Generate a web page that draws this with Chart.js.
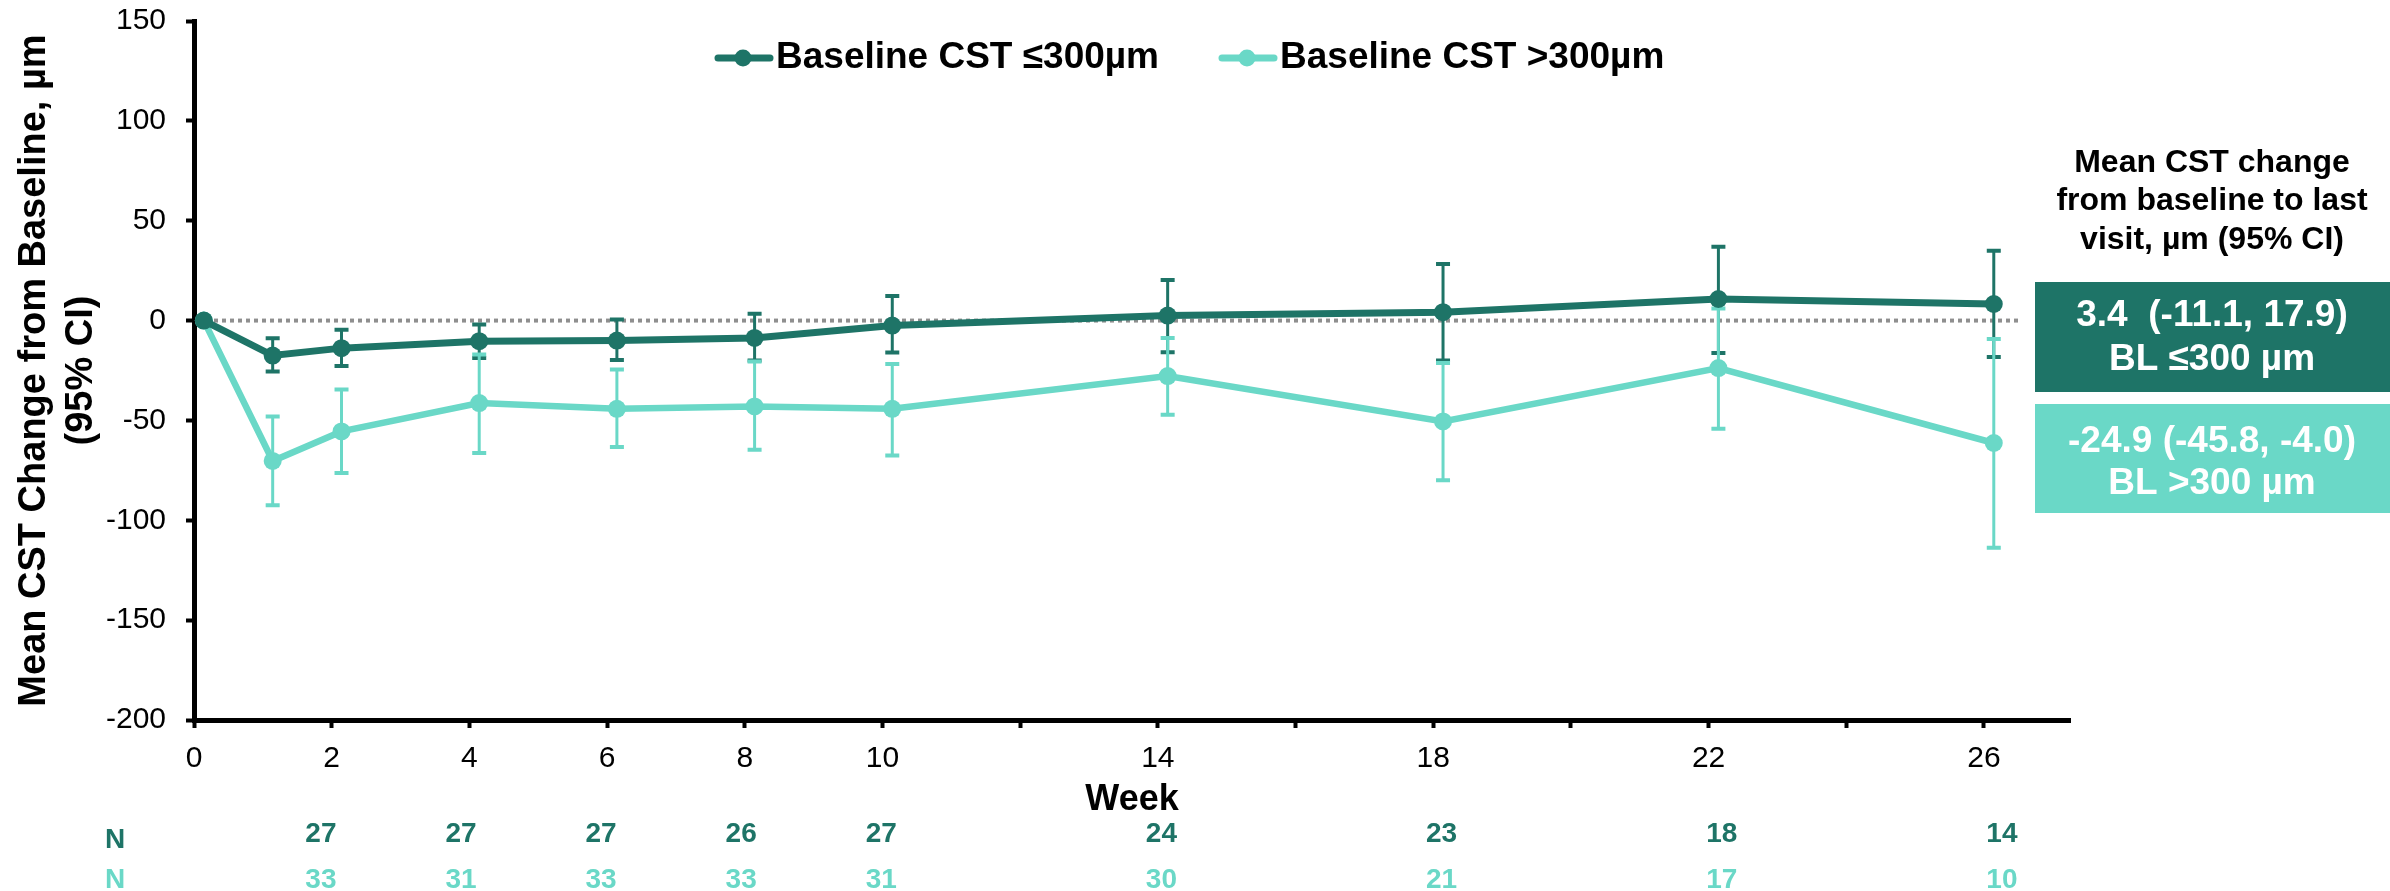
<!DOCTYPE html>
<html>
<head>
<meta charset="utf-8">
<script src="https://cdn.jsdelivr.net/npm/chart.js@4.4.1/dist/chart.umd.min.js"></script>
<style>
  html, body { margin: 0; padding: 0; background: #fff; }
  #cstChart { display: block; }
</style>
</head>
<body>
<canvas id="cstChart" width="2390" height="891"></canvas>
<script>
// study visits, in days from the first dose (day 1 = baseline)
const studyDays = [1, 8, 15, 29, 43, 57, 71, 99, 127, 155, 183];

// BL CST <=300 um
const lowMean = [0, -17.5, -13.8, -10.3, -10, -8.7, -2.5, 2.5, 4.2, 10.8, 8.3];
const lowLo = [0, -25.5, -22.8, -18.8, -19.7, -20, -16, -15.8, -20, -16.2, -18.3];
const lowHi = [0, -8.8, -4.6, -2, 0.5, 3.4, 12.3, 20.3, 28.3, 37, 35];

// BL CST >300 um
const highMean = [0, -70.3, -55.5, -41.3, -44.2, -43, -44.2, -27.8, -50.5, -23.8, -61.3];
const highLo = [0, -92.5, -76.3, -66.3, -63.3, -64.7, -67.5, -47.2, -80, -54.2, -113.7];
const highHi = [0, -48, -34.5, -17, -24.5, -20.5, -21.7, -8.7, -21.2, 6, -9.2];

// patients at each visit
const nWeeks = [2, 4, 6, 8, 10, 14, 18, 22, 26];
const nLow = [27, 27, 27, 26, 27, 24, 23, 18, 14];
const nHigh = [33, 31, 33, 33, 31, 30, 21, 17, 10];

const tickWeeks = [0, 2, 4, 6, 8, 10, 12, 14, 16, 18, 20, 22, 24, 26];
const labelWeeks = [0, 2, 4, 6, 8, 10, 14, 18, 22, 26];

// box on the right
const summaryTitle = ['Mean CST change', 'from baseline to last', 'visit, µm (95% CI)'];
const summaryLow = ['3.4  (-11.1, 17.9)', 'BL ≤300 µm'];
const summaryHigh = ['-24.9 (-45.8, -4.0)', 'BL >300 µm'];

const DARK = '#1e7467';
const LIGHT = '#6ad8c7';
const FONT = "'Liberation Sans', Arial, sans-serif";

Chart.defaults.font.family = FONT;
Chart.defaults.color = '#000';

function toPoints(values) {
    return values.map((v, i) => ({ x: studyDays[i] / 7, y: v }));
}

// zero reference line + 95% CI whiskers, under the lines
const ciPlugin = {
    id: 'ciBars',
    beforeDatasetsDraw(chart) {
        const { ctx, scales: { x, y }, chartArea } = chart;
        ctx.save();
        ctx.strokeStyle = '#8f8f8f';
        ctx.lineWidth = 4;
        ctx.setLineDash([4, 4]);
        ctx.beginPath();
        ctx.moveTo(chartArea.left + 4, y.getPixelForValue(0));
        ctx.lineTo(x.getPixelForValue(26.5), y.getPixelForValue(0));
        ctx.stroke();
        ctx.setLineDash([]);

        const groups = [[lowLo, lowHi, DARK], [highLo, highHi, LIGHT]];
        groups.forEach(([lo, hi, color]) => {
            ctx.strokeStyle = color;
            for (let i = 1; i < studyDays.length; i++) {
                const px = x.getPixelForValue(studyDays[i] / 7);
                const y1 = y.getPixelForValue(hi[i]);
                const y2 = y.getPixelForValue(lo[i]);
                ctx.lineWidth = 3;
                ctx.beginPath();
                ctx.moveTo(px, y1);
                ctx.lineTo(px, y2);
                ctx.stroke();
                ctx.lineWidth = 4;
                ctx.beginPath();
                ctx.moveTo(px - 7, y1);
                ctx.lineTo(px + 7, y1);
                ctx.moveTo(px - 7, y2);
                ctx.lineTo(px + 7, y2);
                ctx.stroke();
            }
        });
        ctx.restore();
    }
};

// legend, N rows and the summary boxes
const extrasPlugin = {
    id: 'extras',
    afterDraw(chart) {
        const { ctx, scales: { x } } = chart;
        ctx.save();

        // legend
        const legendX = [715, 1219];
        chart.data.datasets.forEach((ds, i) => {
            const lx = legendX[i];
            const ly = 58;
            ctx.strokeStyle = ds.borderColor;
            ctx.lineWidth = 7;
            ctx.lineCap = 'round';
            ctx.beginPath();
            ctx.moveTo(lx + 3, ly);
            ctx.lineTo(lx + 55, ly);
            ctx.stroke();
            ctx.fillStyle = ds.borderColor;
            ctx.beginPath();
            ctx.arc(lx + 28, ly, 8.5, 0, Math.PI * 2);
            ctx.fill();
            ctx.fillStyle = '#000';
            ctx.font = 'bold 37px ' + FONT;
            ctx.textAlign = 'left';
            ctx.textBaseline = 'middle';
            ctx.fillText(ds.label, lx + 61, ly);
        });
        ctx.lineCap = 'butt';

        // N at risk
        ctx.font = 'bold 28px ' + FONT;
        ctx.textAlign = 'center';
        ctx.textBaseline = 'middle';
        ctx.fillStyle = DARK;
        ctx.fillText('N', 115, 840);
        ctx.fillStyle = LIGHT;
        ctx.fillText('N', 115, 880);
        nWeeks.forEach((w, i) => {
            const px = x.getPixelForValue(w) + (w - 11) * 1.2;
            ctx.fillStyle = DARK;
            ctx.fillText(String(nLow[i]), px, 834);
            ctx.fillStyle = LIGHT;
            ctx.fillText(String(nHigh[i]), px, 880);
        });

        // summary
        const cx = 2212;
        ctx.fillStyle = '#000';
        ctx.font = 'bold 32px ' + FONT;
        summaryTitle.forEach((t, i) => ctx.fillText(t, cx, 163 + i * 38.5));

        ctx.fillStyle = DARK;
        ctx.fillRect(2035, 282, 355, 110);
        ctx.fillStyle = LIGHT;
        ctx.fillRect(2035, 404, 355, 109);

        ctx.fillStyle = '#fff';
        ctx.font = 'bold 37px ' + FONT;
        ctx.fillText(summaryLow[0], cx, 316);
        ctx.fillText(summaryLow[1], cx, 360);
        ctx.fillText(summaryHigh[0], cx, 442);
        ctx.fillText(summaryHigh[1], cx, 484);
        ctx.restore();
    }
};

new Chart(document.getElementById('cstChart'), {
    type: 'line',
    data: {
        datasets: [{
            label: 'Baseline CST ≤300µm',
            data: toPoints(lowMean),
            borderColor: DARK,
            backgroundColor: DARK,
            borderWidth: 7,
            pointRadius: 9,
            pointBorderWidth: 0,
            pointBackgroundColor: DARK
        }, {
            label: 'Baseline CST >300µm',
            data: toPoints(highMean),
            borderColor: LIGHT,
            backgroundColor: LIGHT,
            borderWidth: 6.5,
            pointRadius: 9,
            pointBorderWidth: 0,
            pointBackgroundColor: LIGHT
        }]
    },
    options: {
        responsive: false,
        animation: false,
        devicePixelRatio: 1,
        layout: { padding: { top: 21, right: 320, bottom: 0, left: 0 } },
        plugins: {
            legend: { display: false },
            tooltip: { enabled: false }
        },
        scales: {
            x: {
                type: 'linear',
                min: 0,
                max: 27.25,
                afterBuildTicks: (s) => { s.ticks = tickWeeks.map(v => ({ value: v })); },
                afterFit: (s) => { s.height = 171; },
                ticks: {
                    autoSkip: false,
                    maxRotation: 0,
                    padding: 13,
                    font: { size: 30 },
                    color: '#000',
                    callback: (v) => labelWeeks.includes(v) ? String(v) : ''
                },
                grid: {
                    drawOnChartArea: false,
                    tickLength: 8,
                    tickWidth: 4,
                    tickColor: '#000',
                    color: '#000'
                },
                border: { color: '#000', width: 5 },
                title: {
                    display: true,
                    text: 'Week',
                    color: '#000',
                    font: { size: 36, weight: 'bold' },
                    padding: { top: 0, bottom: 69 }
                }
            },
            y: {
                min: -200,
                max: 150,
                afterFit: (s) => {
                    s.width = 194;
                    s.paddingTop = 0;
                    s.paddingBottom = 0;
                },
                ticks: {
                    stepSize: 50,
                    padding: 20,
                    font: { size: 30 },
                    color: '#000'
                },
                grid: {
                    drawOnChartArea: false,
                    tickLength: 8,
                    tickWidth: 4,
                    tickColor: '#000',
                    color: '#000'
                },
                border: { color: '#000', width: 5 },
                title: {
                    display: true,
                    text: ['Mean CST Change from Baseline, µm', '(95% CI)'],
                    color: '#000',
                    font: { size: 38, weight: 'bold', lineHeight: 1.24 },
                    padding: { top: 11, bottom: 0 }
                }
            }
        }
    },
    plugins: [ciPlugin, extrasPlugin]
});
</script>
</body>
</html>
